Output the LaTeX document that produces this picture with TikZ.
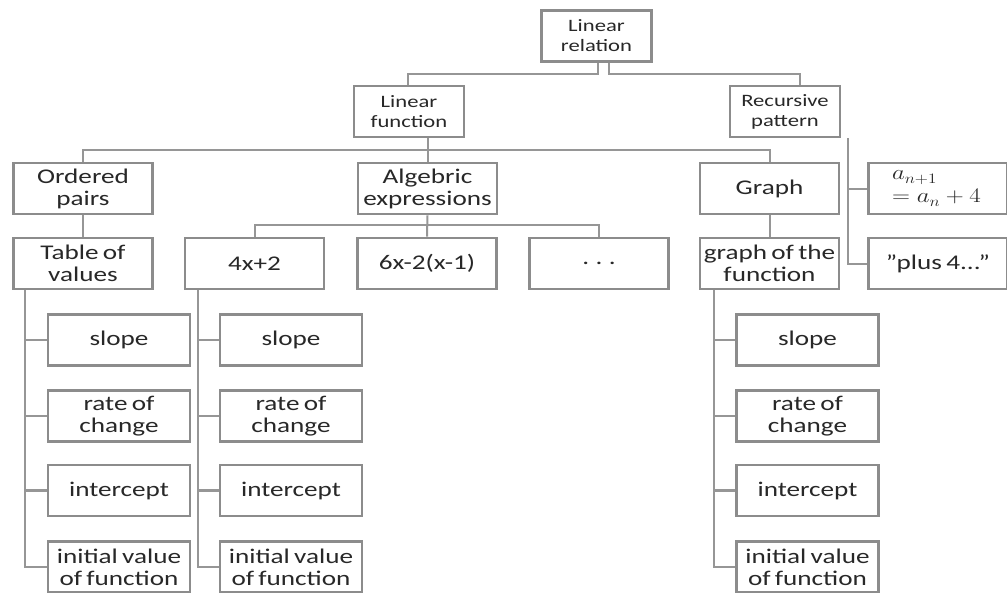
\documentclass[tikz,border=0pt]{standalone}
\usepackage{fontspec}
\setmainfont{Carlito}[FakeStretch=1.3, WordSpace=0.7]
\usepackage{graphicx}
\definecolor{boxgray}{RGB}{140,140,140}
\definecolor{linegray}{RGB}{150,150,150}
\definecolor{txtgray}{RGB}{40,40,40}
\begin{document}
\begin{tikzpicture}[x=1pt,y=-1pt,
  box/.style={draw=boxgray, line width=2.6pt, fill=white, align=center, inner sep=1pt, text=txtgray},
  topbox/.style={box, minimum width=110pt, minimum height=51pt, font=\fontsize{17.4}{20}\selectfont},
  midbox/.style={box, minimum width=139pt, minimum height=51pt, font=\fontsize{20.9}{22}\selectfont},
  leafbox/.style={box, minimum width=142pt, minimum height=51pt, font=\fontsize{20.9}{22}\selectfont},
  mathbox/.style={box, align=left, text width=92pt, minimum width=139pt, minimum height=51pt, font=\fontsize{21.6}{24}\selectfont},
  link/.style={draw=linegray, line width=2pt},
  vlink/.style={draw=linegray, line width=2.6pt},
]
\path[use as bounding box, clip] (0,0) rectangle (1007,592);

% top levels
\node[topbox] (rel) at (596.5,36)  {Linear\\relation};
\node[topbox] (lf)  at (409,111.5) {Linear\\function};
\node[topbox] (rp)  at (785,111.5) {Recursive\\pattern};

% second row
\node[midbox] (op) at (83,188.5)    {Ordered\\pairs};
\node[midbox] (ae) at (427.5,188.5) {Algebric\\expressions};
\node[midbox] (gr) at (769.5,188.5) {Graph};
\node[mathbox] (rec1) at (938,188.5)
  {\scalebox{1.2}[1]{$a_{n+1}$}\\[-1pt]\scalebox{1.2}[1]{$= a_n + 4$}};

% third row
\node[midbox] (tv)   at (83,263.5)    {Table of\\values};
\node[midbox] (f1)   at (254.5,263.5) {4x+2};
\node[midbox] (f2)   at (427,263.5)   {6x-2(x-1)};
\node[midbox] (dots) at (599,263.5)   {. . .};
\node[midbox] (gof)  at (769.5,263.5) {graph of the\\function};
\node[midbox] (rec2) at (938,263.5)   {\symbol{"22}plus 4...\symbol{"22}};

% leaves
\foreach \col/\cx in {a/119, b/291, c/807.5}{
  \node[leafbox] (\col1) at (\cx,340)   {slope};
  \node[leafbox] (\col2) at (\cx,416)   {rate of\\change};
  \node[leafbox] (\col3) at (\cx,490.5) {intercept};
  \node[leafbox] (\col4) at (\cx,567)   {initial value\\of function};
}

% connectors
\draw[link] ([xshift=1.5pt]rel.south) -- ++(0,11.5) -| ([xshift=-1pt]lf.north);
\draw[link] ([xshift=12.5pt]rel.south) -- ++(0,11.5) -| ([xshift=15pt]rp.north);

\draw[link] (lf.south -| ae.north) -- (ae.north);
\draw[link] (op.north) -- ++(0,-12) -| (gr.north);

\draw[link] (op.south) -- (tv.north);
\draw[link] (gr.south) -- (gof.north);

\draw[link] (ae.south) -- (f2.north);
\draw[link] (f1.north) -- ++(0,-11.5) -| (dots.north);

\draw[link] ([xshift=63pt]rp.south) |- (rec1.west);
\draw[link] ([xshift=63pt]rp.south) |- (rec2.west);

\foreach \i in {1,2,3,4}{
  \draw[vlink] ([xshift=-58pt]tv.south) |- (a\i.west);
  \draw[vlink] ([xshift=-56.5pt]f1.south) |- (b\i.west);
  \draw[vlink] ([xshift=-55.5pt]gof.south) |- (c\i.west);
}
\end{tikzpicture}
\end{document}
